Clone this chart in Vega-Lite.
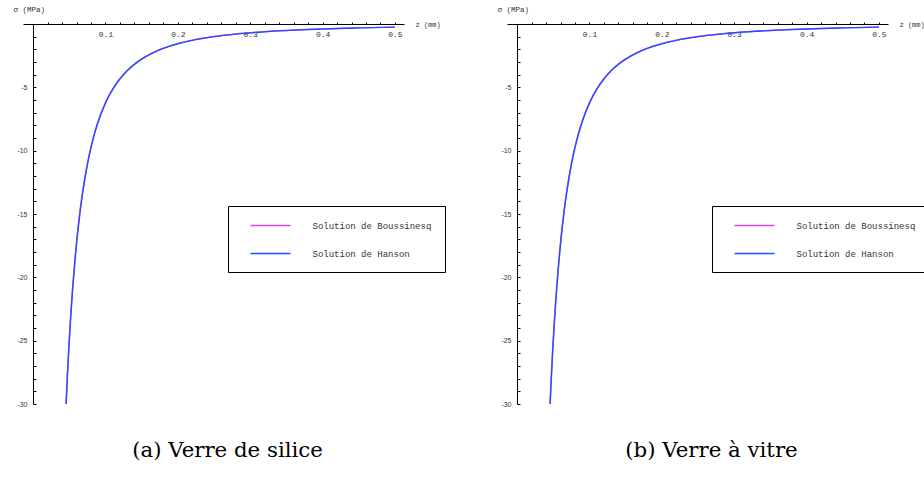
{
  "$schema": "https://vega.github.io/schema/vega-lite/v6.json",
  "autosize": "pad",
  "padding": {"left": 13, "top": 5, "right": 0, "bottom": 0},
  "bounds": "flush",
  "spacing": 103,
  "background": "white",
  "config": {
    "view": {"stroke": null},
    "axis": {"grid": false, "domainColor": "black", "tickColor": "black", "domainWidth": 1, "tickWidth": 1, "labelColor": "#333333", "titleColor": "#333333", "titleFontWeight": "normal", "labelFlush": false, "labelOverlap": false},
    "title": {"font": "DejaVu Serif", "fontWeight": "normal", "color": "black"}
  },
  "datasets": {
    "curves": [
      {"verre": "silice", "solution": "Solution de Boussinesq", "z": 0.04541, "sigma": -30.0},
      {"verre": "silice", "solution": "Solution de Boussinesq", "z": 0.047, "sigma": -28.01},
      {"verre": "silice", "solution": "Solution de Boussinesq", "z": 0.049, "sigma": -25.77},
      {"verre": "silice", "solution": "Solution de Boussinesq", "z": 0.051, "sigma": -23.79},
      {"verre": "silice", "solution": "Solution de Boussinesq", "z": 0.053, "sigma": -22.03},
      {"verre": "silice", "solution": "Solution de Boussinesq", "z": 0.055, "sigma": -20.45},
      {"verre": "silice", "solution": "Solution de Boussinesq", "z": 0.058, "sigma": -18.39},
      {"verre": "silice", "solution": "Solution de Boussinesq", "z": 0.061, "sigma": -16.63},
      {"verre": "silice", "solution": "Solution de Boussinesq", "z": 0.065, "sigma": -14.64},
      {"verre": "silice", "solution": "Solution de Boussinesq", "z": 0.07, "sigma": -12.63},
      {"verre": "silice", "solution": "Solution de Boussinesq", "z": 0.075, "sigma": -11.0},
      {"verre": "silice", "solution": "Solution de Boussinesq", "z": 0.08, "sigma": -9.668},
      {"verre": "silice", "solution": "Solution de Boussinesq", "z": 0.085, "sigma": -8.564},
      {"verre": "silice", "solution": "Solution de Boussinesq", "z": 0.09, "sigma": -7.639},
      {"verre": "silice", "solution": "Solution de Boussinesq", "z": 0.1, "sigma": -6.188},
      {"verre": "silice", "solution": "Solution de Boussinesq", "z": 0.11, "sigma": -5.113},
      {"verre": "silice", "solution": "Solution de Boussinesq", "z": 0.12, "sigma": -4.297},
      {"verre": "silice", "solution": "Solution de Boussinesq", "z": 0.13, "sigma": -3.661},
      {"verre": "silice", "solution": "Solution de Boussinesq", "z": 0.14, "sigma": -3.157},
      {"verre": "silice", "solution": "Solution de Boussinesq", "z": 0.15, "sigma": -2.75},
      {"verre": "silice", "solution": "Solution de Boussinesq", "z": 0.165, "sigma": -2.273},
      {"verre": "silice", "solution": "Solution de Boussinesq", "z": 0.18, "sigma": -1.91},
      {"verre": "silice", "solution": "Solution de Boussinesq", "z": 0.2, "sigma": -1.547},
      {"verre": "silice", "solution": "Solution de Boussinesq", "z": 0.22, "sigma": -1.278},
      {"verre": "silice", "solution": "Solution de Boussinesq", "z": 0.25, "sigma": -0.99},
      {"verre": "silice", "solution": "Solution de Boussinesq", "z": 0.28, "sigma": -0.789},
      {"verre": "silice", "solution": "Solution de Boussinesq", "z": 0.32, "sigma": -0.604},
      {"verre": "silice", "solution": "Solution de Boussinesq", "z": 0.36, "sigma": -0.477},
      {"verre": "silice", "solution": "Solution de Boussinesq", "z": 0.4, "sigma": -0.387},
      {"verre": "silice", "solution": "Solution de Boussinesq", "z": 0.45, "sigma": -0.306},
      {"verre": "silice", "solution": "Solution de Boussinesq", "z": 0.5, "sigma": -0.248},
      {"verre": "silice", "solution": "Solution de Hanson", "z": 0.04564, "sigma": -30.0},
      {"verre": "silice", "solution": "Solution de Hanson", "z": 0.047, "sigma": -28.29},
      {"verre": "silice", "solution": "Solution de Hanson", "z": 0.049, "sigma": -26.03},
      {"verre": "silice", "solution": "Solution de Hanson", "z": 0.051, "sigma": -24.03},
      {"verre": "silice", "solution": "Solution de Hanson", "z": 0.053, "sigma": -22.25},
      {"verre": "silice", "solution": "Solution de Hanson", "z": 0.055, "sigma": -20.66},
      {"verre": "silice", "solution": "Solution de Hanson", "z": 0.058, "sigma": -18.58},
      {"verre": "silice", "solution": "Solution de Hanson", "z": 0.061, "sigma": -16.8},
      {"verre": "silice", "solution": "Solution de Hanson", "z": 0.065, "sigma": -14.79},
      {"verre": "silice", "solution": "Solution de Hanson", "z": 0.07, "sigma": -12.76},
      {"verre": "silice", "solution": "Solution de Hanson", "z": 0.075, "sigma": -11.11},
      {"verre": "silice", "solution": "Solution de Hanson", "z": 0.08, "sigma": -9.766},
      {"verre": "silice", "solution": "Solution de Hanson", "z": 0.085, "sigma": -8.651},
      {"verre": "silice", "solution": "Solution de Hanson", "z": 0.09, "sigma": -7.716},
      {"verre": "silice", "solution": "Solution de Hanson", "z": 0.1, "sigma": -6.25},
      {"verre": "silice", "solution": "Solution de Hanson", "z": 0.11, "sigma": -5.165},
      {"verre": "silice", "solution": "Solution de Hanson", "z": 0.12, "sigma": -4.34},
      {"verre": "silice", "solution": "Solution de Hanson", "z": 0.13, "sigma": -3.698},
      {"verre": "silice", "solution": "Solution de Hanson", "z": 0.14, "sigma": -3.189},
      {"verre": "silice", "solution": "Solution de Hanson", "z": 0.15, "sigma": -2.778},
      {"verre": "silice", "solution": "Solution de Hanson", "z": 0.165, "sigma": -2.296},
      {"verre": "silice", "solution": "Solution de Hanson", "z": 0.18, "sigma": -1.929},
      {"verre": "silice", "solution": "Solution de Hanson", "z": 0.2, "sigma": -1.5625},
      {"verre": "silice", "solution": "Solution de Hanson", "z": 0.22, "sigma": -1.291},
      {"verre": "silice", "solution": "Solution de Hanson", "z": 0.25, "sigma": -1.0},
      {"verre": "silice", "solution": "Solution de Hanson", "z": 0.28, "sigma": -0.797},
      {"verre": "silice", "solution": "Solution de Hanson", "z": 0.32, "sigma": -0.61},
      {"verre": "silice", "solution": "Solution de Hanson", "z": 0.36, "sigma": -0.482},
      {"verre": "silice", "solution": "Solution de Hanson", "z": 0.4, "sigma": -0.391},
      {"verre": "silice", "solution": "Solution de Hanson", "z": 0.45, "sigma": -0.309},
      {"verre": "silice", "solution": "Solution de Hanson", "z": 0.5, "sigma": -0.25},
      {"verre": "vitre", "solution": "Solution de Boussinesq", "z": 0.04541, "sigma": -30.0},
      {"verre": "vitre", "solution": "Solution de Boussinesq", "z": 0.047, "sigma": -28.01},
      {"verre": "vitre", "solution": "Solution de Boussinesq", "z": 0.049, "sigma": -25.77},
      {"verre": "vitre", "solution": "Solution de Boussinesq", "z": 0.051, "sigma": -23.79},
      {"verre": "vitre", "solution": "Solution de Boussinesq", "z": 0.053, "sigma": -22.03},
      {"verre": "vitre", "solution": "Solution de Boussinesq", "z": 0.055, "sigma": -20.45},
      {"verre": "vitre", "solution": "Solution de Boussinesq", "z": 0.058, "sigma": -18.39},
      {"verre": "vitre", "solution": "Solution de Boussinesq", "z": 0.061, "sigma": -16.63},
      {"verre": "vitre", "solution": "Solution de Boussinesq", "z": 0.065, "sigma": -14.64},
      {"verre": "vitre", "solution": "Solution de Boussinesq", "z": 0.07, "sigma": -12.63},
      {"verre": "vitre", "solution": "Solution de Boussinesq", "z": 0.075, "sigma": -11.0},
      {"verre": "vitre", "solution": "Solution de Boussinesq", "z": 0.08, "sigma": -9.668},
      {"verre": "vitre", "solution": "Solution de Boussinesq", "z": 0.085, "sigma": -8.564},
      {"verre": "vitre", "solution": "Solution de Boussinesq", "z": 0.09, "sigma": -7.639},
      {"verre": "vitre", "solution": "Solution de Boussinesq", "z": 0.1, "sigma": -6.188},
      {"verre": "vitre", "solution": "Solution de Boussinesq", "z": 0.11, "sigma": -5.113},
      {"verre": "vitre", "solution": "Solution de Boussinesq", "z": 0.12, "sigma": -4.297},
      {"verre": "vitre", "solution": "Solution de Boussinesq", "z": 0.13, "sigma": -3.661},
      {"verre": "vitre", "solution": "Solution de Boussinesq", "z": 0.14, "sigma": -3.157},
      {"verre": "vitre", "solution": "Solution de Boussinesq", "z": 0.15, "sigma": -2.75},
      {"verre": "vitre", "solution": "Solution de Boussinesq", "z": 0.165, "sigma": -2.273},
      {"verre": "vitre", "solution": "Solution de Boussinesq", "z": 0.18, "sigma": -1.91},
      {"verre": "vitre", "solution": "Solution de Boussinesq", "z": 0.2, "sigma": -1.547},
      {"verre": "vitre", "solution": "Solution de Boussinesq", "z": 0.22, "sigma": -1.278},
      {"verre": "vitre", "solution": "Solution de Boussinesq", "z": 0.25, "sigma": -0.99},
      {"verre": "vitre", "solution": "Solution de Boussinesq", "z": 0.28, "sigma": -0.789},
      {"verre": "vitre", "solution": "Solution de Boussinesq", "z": 0.32, "sigma": -0.604},
      {"verre": "vitre", "solution": "Solution de Boussinesq", "z": 0.36, "sigma": -0.477},
      {"verre": "vitre", "solution": "Solution de Boussinesq", "z": 0.4, "sigma": -0.387},
      {"verre": "vitre", "solution": "Solution de Boussinesq", "z": 0.45, "sigma": -0.306},
      {"verre": "vitre", "solution": "Solution de Boussinesq", "z": 0.5, "sigma": -0.248},
      {"verre": "vitre", "solution": "Solution de Hanson", "z": 0.04564, "sigma": -30.0},
      {"verre": "vitre", "solution": "Solution de Hanson", "z": 0.047, "sigma": -28.29},
      {"verre": "vitre", "solution": "Solution de Hanson", "z": 0.049, "sigma": -26.03},
      {"verre": "vitre", "solution": "Solution de Hanson", "z": 0.051, "sigma": -24.03},
      {"verre": "vitre", "solution": "Solution de Hanson", "z": 0.053, "sigma": -22.25},
      {"verre": "vitre", "solution": "Solution de Hanson", "z": 0.055, "sigma": -20.66},
      {"verre": "vitre", "solution": "Solution de Hanson", "z": 0.058, "sigma": -18.58},
      {"verre": "vitre", "solution": "Solution de Hanson", "z": 0.061, "sigma": -16.8},
      {"verre": "vitre", "solution": "Solution de Hanson", "z": 0.065, "sigma": -14.79},
      {"verre": "vitre", "solution": "Solution de Hanson", "z": 0.07, "sigma": -12.76},
      {"verre": "vitre", "solution": "Solution de Hanson", "z": 0.075, "sigma": -11.11},
      {"verre": "vitre", "solution": "Solution de Hanson", "z": 0.08, "sigma": -9.766},
      {"verre": "vitre", "solution": "Solution de Hanson", "z": 0.085, "sigma": -8.651},
      {"verre": "vitre", "solution": "Solution de Hanson", "z": 0.09, "sigma": -7.716},
      {"verre": "vitre", "solution": "Solution de Hanson", "z": 0.1, "sigma": -6.25},
      {"verre": "vitre", "solution": "Solution de Hanson", "z": 0.11, "sigma": -5.165},
      {"verre": "vitre", "solution": "Solution de Hanson", "z": 0.12, "sigma": -4.34},
      {"verre": "vitre", "solution": "Solution de Hanson", "z": 0.13, "sigma": -3.698},
      {"verre": "vitre", "solution": "Solution de Hanson", "z": 0.14, "sigma": -3.189},
      {"verre": "vitre", "solution": "Solution de Hanson", "z": 0.15, "sigma": -2.778},
      {"verre": "vitre", "solution": "Solution de Hanson", "z": 0.165, "sigma": -2.296},
      {"verre": "vitre", "solution": "Solution de Hanson", "z": 0.18, "sigma": -1.929},
      {"verre": "vitre", "solution": "Solution de Hanson", "z": 0.2, "sigma": -1.5625},
      {"verre": "vitre", "solution": "Solution de Hanson", "z": 0.22, "sigma": -1.291},
      {"verre": "vitre", "solution": "Solution de Hanson", "z": 0.25, "sigma": -1.0},
      {"verre": "vitre", "solution": "Solution de Hanson", "z": 0.28, "sigma": -0.797},
      {"verre": "vitre", "solution": "Solution de Hanson", "z": 0.32, "sigma": -0.61},
      {"verre": "vitre", "solution": "Solution de Hanson", "z": 0.36, "sigma": -0.482},
      {"verre": "vitre", "solution": "Solution de Hanson", "z": 0.4, "sigma": -0.391},
      {"verre": "vitre", "solution": "Solution de Hanson", "z": 0.45, "sigma": -0.309},
      {"verre": "vitre", "solution": "Solution de Hanson", "z": 0.5, "sigma": -0.25}
    ]
  },
  "resolve": {"legend": {"color": "independent"}},
  "hconcat": [
    {
      "width": 381,
      "height": 380,
      "data": {"name": "curves"},
      "transform": [{"filter": "datum.verre === 'silice'"}],
      "title": {"text": "(a) Verre de silice", "orient": "bottom", "frame": "group", "anchor": "middle", "dx": 14, "offset": 50, "baseline": "alphabetic", "fontSize": 21.3},
      "mark": {"type": "line", "clip": true, "strokeWidth": 1.4, "interpolate": "monotone"},
      "encoding": {
        "x": {"field": "z", "type": "quantitative", "scale": {"domain": [-0.014, 0.5125], "nice": false, "zero": false},
          "axis": {"orient": "top", "values": [0.02, 0.04, 0.06, 0.08, 0.1, 0.12, 0.14, 0.16, 0.18, 0.2, 0.22, 0.24, 0.26, 0.28, 0.3, 0.32, 0.34, 0.36, 0.38, 0.4, 0.42, 0.44, 0.46, 0.48, 0.5],
            "labelExpr": "abs(datum.value * 10 - round(datum.value * 10)) < 0.001 ? format(datum.value, '.1f') : ''",
            "tickSize": 2, "labelBaseline": "top", "labelPadding": -8, "labelFont": "Liberation Mono", "labelFontSize": 8,
            "title": "z (mm)", "titleX": 392, "titleY": 0, "titleAngle": 0, "titleAlign": "left", "titleBaseline": "middle", "titleFont": "Liberation Mono", "titleFontSize": 7}},
        "y": {"field": "sigma", "type": "quantitative", "scale": {"domain": [-30, 0], "nice": false, "zero": false},
          "axis": {"orient": "left", "offset": -10, "values": [-30, -29, -28, -27, -26, -25, -24, -23, -22, -21, -20, -19, -18, -17, -16, -15, -14, -13, -12, -11, -10, -9, -8, -7, -6, -5, -4, -3, -2, -1],
            "labelExpr": "datum.value % 5 === 0 ? '' + datum.value : ''",
            "tickSize": -3, "labelPadding": 9, "labelFont": "Liberation Sans", "labelFontSize": 7,
            "title": "σ  (MPa)", "titleX": -20, "titleY": -19, "titleAngle": 0, "titleAlign": "left", "titleBaseline": "top", "titleFont": "Liberation Mono", "titleFontSize": 7.5}},
        "color": {"field": "solution", "type": "nominal",
          "scale": {"domain": ["Solution de Boussinesq", "Solution de Hanson"], "range": ["#e040f0", "#2050ff"]},
          "legend": {"orient": "none", "legendX": 205, "legendY": 182, "title": null, "strokeColor": "black", "fillColor": "white", "padding": 13.5, "symbolType": "M-4,0H4", "symbolSize": 100, "symbolStrokeWidth": 1.5, "symbolOffset": 23, "labelOffset": 36, "labelFont": "Liberation Mono", "labelFontSize": 9, "labelColor": "#333333", "rowPadding": 17}}
      }
    },
    {
      "width": 381,
      "height": 380,
      "data": {"name": "curves"},
      "transform": [{"filter": "datum.verre === 'vitre'"}],
      "title": {"text": "(b) Verre à vitre", "orient": "bottom", "frame": "group", "anchor": "middle", "dx": 14, "offset": 50, "baseline": "alphabetic", "fontSize": 21.3},
      "mark": {"type": "line", "clip": true, "strokeWidth": 1.4, "interpolate": "monotone"},
      "encoding": {
        "x": {"field": "z", "type": "quantitative", "scale": {"domain": [-0.014, 0.5125], "nice": false, "zero": false},
          "axis": {"orient": "top", "values": [0.02, 0.04, 0.06, 0.08, 0.1, 0.12, 0.14, 0.16, 0.18, 0.2, 0.22, 0.24, 0.26, 0.28, 0.3, 0.32, 0.34, 0.36, 0.38, 0.4, 0.42, 0.44, 0.46, 0.48, 0.5],
            "labelExpr": "abs(datum.value * 10 - round(datum.value * 10)) < 0.001 ? format(datum.value, '.1f') : ''",
            "tickSize": 2, "labelBaseline": "top", "labelPadding": -8, "labelFont": "Liberation Mono", "labelFontSize": 8,
            "title": "z (mm)", "titleX": 392, "titleY": 0, "titleAngle": 0, "titleAlign": "left", "titleBaseline": "middle", "titleFont": "Liberation Mono", "titleFontSize": 7}},
        "y": {"field": "sigma", "type": "quantitative", "scale": {"domain": [-30, 0], "nice": false, "zero": false},
          "axis": {"orient": "left", "offset": -10, "values": [-30, -29, -28, -27, -26, -25, -24, -23, -22, -21, -20, -19, -18, -17, -16, -15, -14, -13, -12, -11, -10, -9, -8, -7, -6, -5, -4, -3, -2, -1],
            "labelExpr": "datum.value % 5 === 0 ? '' + datum.value : ''",
            "tickSize": -3, "labelPadding": 9, "labelFont": "Liberation Sans", "labelFontSize": 7,
            "title": "σ  (MPa)", "titleX": -20, "titleY": -19, "titleAngle": 0, "titleAlign": "left", "titleBaseline": "top", "titleFont": "Liberation Mono", "titleFontSize": 7.5}},
        "color": {"field": "solution", "type": "nominal",
          "scale": {"domain": ["Solution de Boussinesq", "Solution de Hanson"], "range": ["#e040f0", "#2050ff"]},
          "legend": {"orient": "none", "legendX": 205, "legendY": 182, "title": null, "strokeColor": "black", "fillColor": "white", "padding": 13.5, "symbolType": "M-4,0H4", "symbolSize": 100, "symbolStrokeWidth": 1.5, "symbolOffset": 23, "labelOffset": 36, "labelFont": "Liberation Mono", "labelFontSize": 9, "labelColor": "#333333", "rowPadding": 17}}
      }
    }
  ]
}
